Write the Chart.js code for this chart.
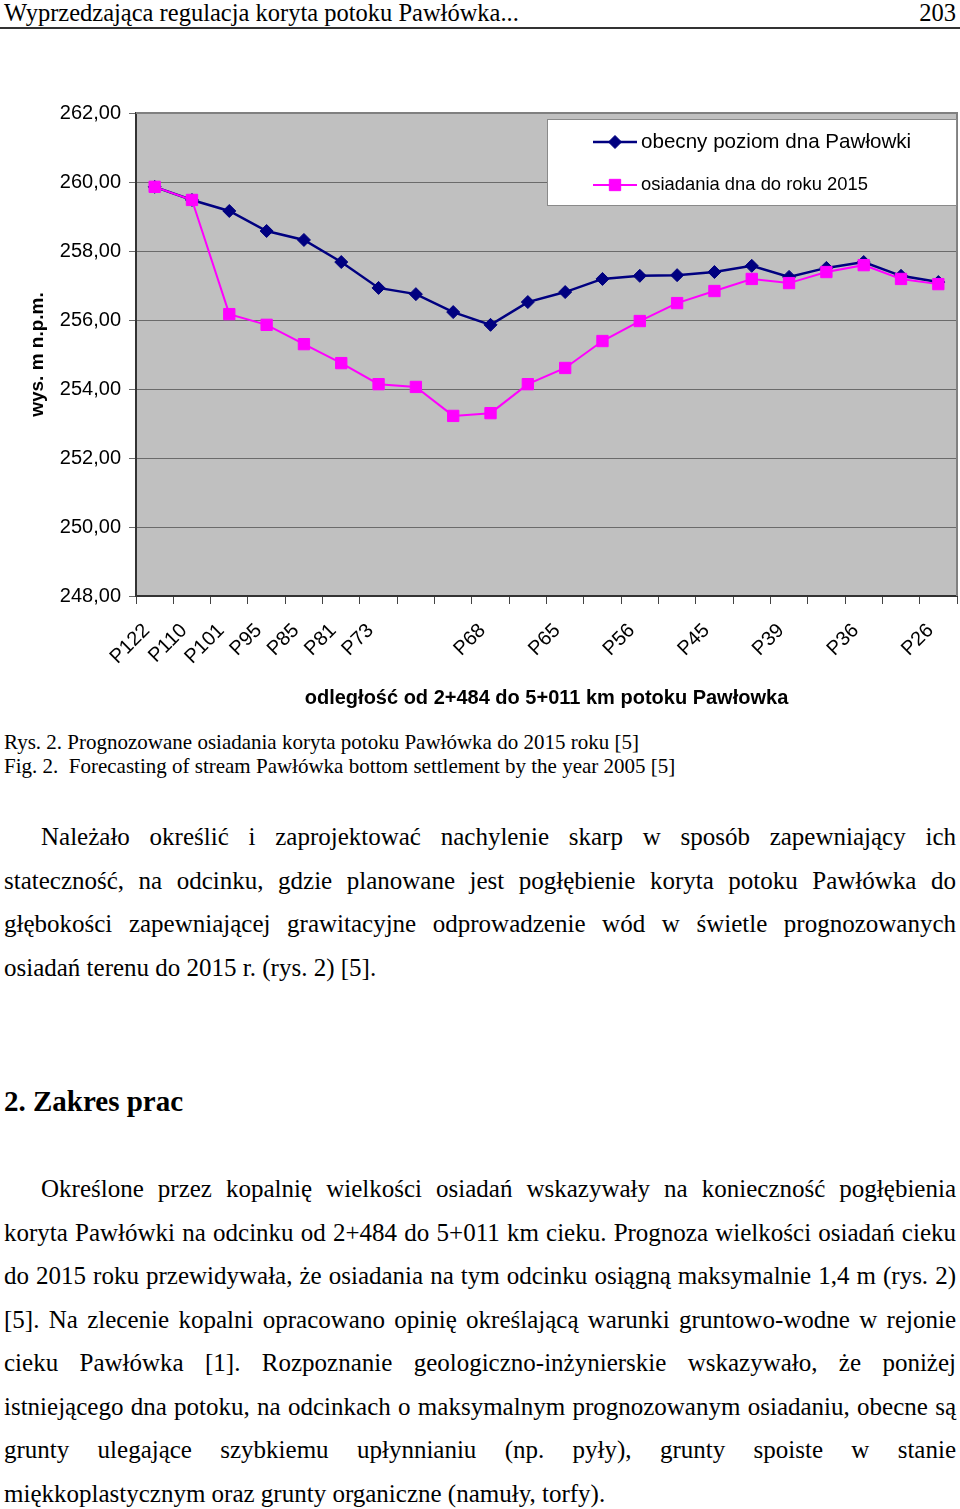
<!DOCTYPE html>
<html lang="pl">
<head>
<meta charset="utf-8">
<title>Wyprzedzająca regulacja koryta potoku Pawłówka</title>
<script src="https://cdn.jsdelivr.net/npm/chart.js@4.4.1/dist/chart.umd.min.js"></script>
<style>
  html, body { margin: 0; padding: 0; background: #fff; }
  body {
    width: 960px; height: 1509px; position: relative; overflow: hidden;
    font-family: "Liberation Serif", "Times New Roman", serif; color: #000;
  }
  #header {
    position: absolute; left: 0; top: 0; width: 960px; height: 27px;
    border-bottom: 2px solid #333; font-size: 24.5px; line-height: 26px;
  }
  #header .title { position: absolute; left: 4px; top: 0; }
  #header .page { position: absolute; right: 4px; top: 0; }
  #chartBox { position: absolute; left: 0; top: 90px; width: 960px; height: 640px; }
  .block { position: absolute; left: 4px; width: 952px; }
  .caption { top: 730px; font-size: 21px; line-height: 24px; }
  .para { font-size: 25px; line-height: 43.5px; }
  .para .line { text-align: justify; text-align-last: justify; }
  .para .first { text-indent: 37px; }
  .para .last { text-align-last: left; }
  .heading { top: 1081px; font-size: 29px; line-height: 40px; font-weight: bold; }
</style>
</head>
<body>

<div id="header">
  <span class="title">Wyprzedzająca regulacja koryta potoku Pawłówka...</span>
  <span class="page">203</span>
</div>

<div id="chartBox"><canvas id="chart" width="960" height="640"></canvas></div>

<div class="block caption">
  Rys. 2. Prognozowane osiadania koryta potoku Pawłówka do 2015 roku [5]<br>
  Fig. 2.&nbsp; Forecasting of stream Pawłówka bottom settlement by the year 2005 [5]
</div>

<div class="block para" style="top:815px">
  <div class="line first">Należało określić i zaprojektować nachylenie skarp w&nbsp;sposób zapewniający ich</div>
  <div class="line">stateczność, na odcinku, gdzie planowane jest pogłębienie koryta potoku Pawłówka do</div>
  <div class="line">głębokości zapewniającej grawitacyjne odprowadzenie wód w świetle prognozowanych</div>
  <div class="line last">osiadań terenu do 2015 r. (rys. 2) [5].</div>
</div>

<div class="block heading">2. Zakres prac</div>

<div class="block para" style="top:1167px">
  <div class="line first">Określone przez kopalnię wielkości osiadań wskazywały na konieczność pogłębienia</div>
  <div class="line">koryta Pawłówki na odcinku od 2+484 do 5+011 km cieku. Prognoza wielkości osiadań cieku</div>
  <div class="line">do 2015 roku przewidywała, że osiadania na tym odcinku osiągną maksymalnie 1,4 m (rys. 2)</div>
  <div class="line">[5]. Na zlecenie kopalni opracowano opinię określającą warunki gruntowo-wodne w rejonie</div>
  <div class="line">cieku Pawłówka [1]. Rozpoznanie geologiczno-inżynierskie wskazywało, że poniżej</div>
  <div class="line">istniejącego dna potoku, na odcinkach o maksymalnym prognozowanym osiadaniu, obecne są</div>
  <div class="line">grunty ulegające szybkiemu upłynnianiu (np. pyły), grunty spoiste w stanie</div>
  <div class="line last">miękkoplastycznym oraz grunty organiczne (namuły, torfy).</div>
</div>

<script>
// profile names along the stream (blank = profile without a label)
const profiles = ["P122", "P110", "P101", "P95", "P85", "P81", "P73", "", "", "P68", "",
  "P65", "", "P56", "", "P45", "", "P39", "", "P36", "", "P26"];

// present bottom level [m a.s.l.]
const obecnyPoziom = [259.86, 259.48, 259.16, 258.58, 258.32, 257.68, 256.93, 256.75,
  256.23, 255.86, 256.52, 256.81, 257.19, 257.28, 257.30, 257.39, 257.57, 257.25,
  257.51, 257.68, 257.28, 257.10];

// bottom level after settlement by 2015 [m a.s.l.]
const osiadania2015 = [259.86, 259.48, 256.17, 255.86, 255.30, 254.75, 254.14, 254.06,
  253.22, 253.30, 254.14, 254.61, 255.39, 255.97, 256.49, 256.84, 257.19, 257.07,
  257.39, 257.59, 257.19, 257.04];

const seriesNames = ["obecny poziom dna Pawłowki", "osiadania dna do roku 2015"];
const yMin = 248, yMax = 262, yStep = 2;
const xTitle = "odległość od 2+484 do 5+011 km potoku Pawłowka";
const yTitle = "wys. m n.p.m.";

Chart.defaults.font.family = "'Liberation Sans', Arial, sans-serif";
Chart.defaults.color = "#000";

// grey plot area with a frame on top and right
const plotFrame = {
  id: "plotFrame",
  beforeDraw(chart) {
    const { ctx, chartArea: a } = chart;
    ctx.save();
    ctx.fillStyle = "#c0c0c0";
    ctx.fillRect(a.left, a.top, a.right - a.left, a.bottom - a.top);
    ctx.restore();
  },
  beforeDatasetsDraw(chart) {
    const { ctx, chartArea: a } = chart;
    ctx.save();
    ctx.strokeStyle = "#808080";
    ctx.lineWidth = 2;
    ctx.beginPath();
    ctx.moveTo(a.left, a.top);
    ctx.lineTo(a.right, a.top);
    ctx.lineTo(a.right, a.bottom);
    ctx.stroke();
    ctx.restore();
  }
};

// legend in a white box inside the plot, like the Excel one
const boxLegend = {
  id: "boxLegend",
  afterDraw(chart) {
    const { ctx, chartArea: a } = chart;
    const x0 = a.left + 411, y0 = a.top + 6, w = a.right - x0, h = 87;
    ctx.save();
    ctx.fillStyle = "#fff";
    ctx.fillRect(x0, y0, w, h);
    ctx.strokeStyle = "#8a8a8a";
    ctx.lineWidth = 1;
    ctx.strokeRect(x0 + 0.5, y0 + 0.5, w - 1, h - 1);

    const rows = [
      { ds: chart.data.datasets[0], y: y0 + 23, size: 20.6 },
      { ds: chart.data.datasets[1], y: y0 + 66, size: 18.4 }
    ];
    rows.forEach(r => {
      const ds = r.ds;
      ctx.strokeStyle = ds.borderColor;
      ctx.lineWidth = ds.borderWidth;
      ctx.beginPath();
      ctx.moveTo(x0 + 46, r.y);
      ctx.lineTo(x0 + 90, r.y);
      ctx.stroke();
      ctx.fillStyle = ds.pointBackgroundColor;
      ctx.strokeStyle = ds.pointBorderColor;
      ctx.lineWidth = 1;
      Chart.helpers.drawPoint(ctx, {
        pointStyle: ds.pointStyle, radius: ds.pointRadius, borderWidth: 1, rotation: 0
      }, x0 + 68, r.y);
      ctx.fillStyle = "#000";
      ctx.font = r.size + "px 'Liberation Sans', Arial, sans-serif";
      ctx.textAlign = "left";
      ctx.textBaseline = "middle";
      ctx.fillText(ds.label, x0 + 94, r.y);
    });
    ctx.restore();
  }
};

new Chart(document.getElementById("chart"), {
  type: "line",
  data: {
    labels: profiles,
    datasets: [
      {
        label: seriesNames[0],
        data: obecnyPoziom,
        borderColor: "#000080",
        backgroundColor: "#000080",
        borderWidth: 2.5,
        pointStyle: "rectRot",
        pointRadius: 6.5,
        pointBackgroundColor: "#000080",
        pointBorderColor: "#000080",
        pointBorderWidth: 1,
        tension: 0,
        order: 1
      },
      {
        label: seriesNames[1],
        data: osiadania2015,
        borderColor: "#ff00ff",
        backgroundColor: "#ff00ff",
        borderWidth: 2,
        pointStyle: "rect",
        pointRadius: 8,
        pointBackgroundColor: "#ff00ff",
        pointBorderColor: "#ff00ff",
        pointBorderWidth: 1,
        tension: 0,
        order: 0
      }
    ]
  },
  options: {
    responsive: false,
    animation: false,
    devicePixelRatio: 1,
    layout: { autoPadding: false, padding: { left: 0, right: 3, top: 23, bottom: 14 } },
    plugins: {
      legend: { display: false },
      tooltip: { enabled: false }
    },
    scales: {
      x: {
        offset: true,
        grid: { offset: true, drawOnChartArea: false, drawTicks: true, tickLength: 8, color: "#444" },
        border: { color: "#333", width: 2 },
        ticks: {
          autoSkip: false, minRotation: 45, maxRotation: 45,
          padding: 15, labelOffset: -8, font: { size: 20 }
        },
        title: { display: true, text: xTitle, font: { size: 20, weight: "bold" }, padding: { top: 0, bottom: 6 } },
        afterFit(scale) {
          scale.height = 120;
          scale.paddingLeft = 0;
          scale.paddingRight = 0;
        }
      },
      y: {
        min: yMin,
        max: yMax,
        ticks: {
          stepSize: yStep,
          padding: 8,
          font: { size: 20 },
          callback: v => v.toFixed(2).replace(".", ",")
        },
        grid: { color: "#6b6b6b", lineWidth: 1, tickLength: 7 },
        border: { color: "#333", width: 2 },
        title: { display: true, text: yTitle, font: { size: 19, weight: "bold" }, padding: { top: 26, bottom: 0 } },
        afterFit(scale) { scale.width = 136; }
      }
    }
  },
  plugins: [plotFrame, boxLegend]
});
</script>
</body>
</html>
